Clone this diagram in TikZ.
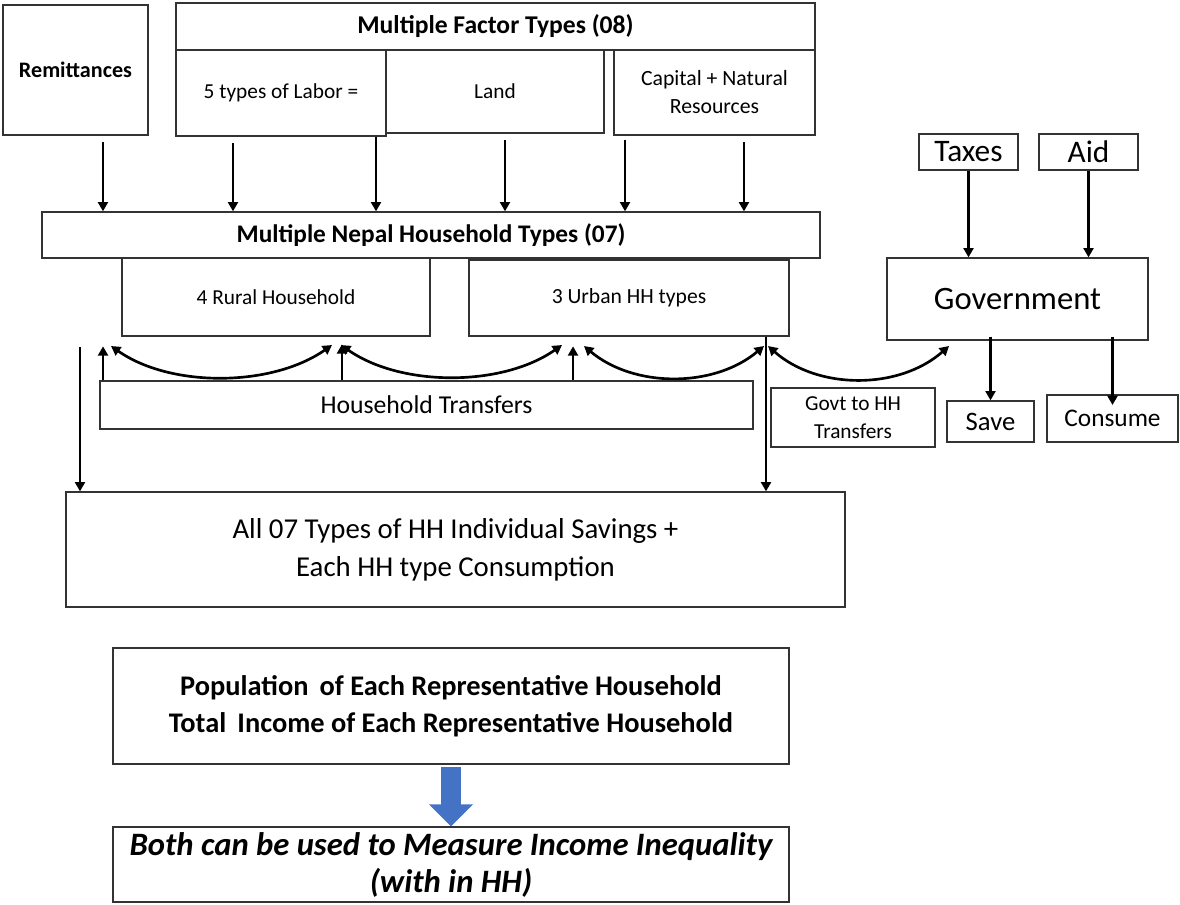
\documentclass[tikz,border=0pt]{standalone}
\usepackage{fontspec}
\setmainfont{Carlito}
\usetikzlibrary{arrows.meta}
\newcommand{\fs}[2]{\fontsize{#1}{#2}\selectfont}
\tikzset{
  box/.style={draw=black!80, line width=1pt, inner sep=0pt, align=center},
  arr/.style={line width=2pt, -{Triangle[length=7pt,width=7.5pt]}},
  twoway/.style={line width=2pt, {Triangle[length=7pt,width=7.5pt]}-{Triangle[length=7pt,width=7.5pt]}},
}

\begin{document}
\begin{tikzpicture}[x=0.75pt, y=-0.75pt]
    \useasboundingbox (0,0) rectangle (1180,904);
    % sources on top
    \node[box, minimum width=108.75pt, minimum height=97.5pt, font=\bfseries\fs{16.6}{20}] (remit) at (75.5,70) {Remittances};
    \node[box, minimum width=479.25pt, minimum height=35.25pt, font=\bfseries\fs{19.2}{22}] (factor) at (495.5,26.5) {Multiple Factor Types (08)};
    \node[box, minimum width=157.5pt, minimum height=64.5pt, font=\fs{16}{21}] (labor) at (281,93) {5 types of Labor =};
    \node[box, minimum width=163.5pt, minimum height=62.25pt, font=\fs{16}{21}] (land) at (495,91.5) {Land};
    \node[box, minimum width=150.75pt, minimum height=63.75pt, font=\fs{16.3}{21}] (cap) at (714.5,92.5) {Capital + Natural\\Resources};
    % households
    \node[box, minimum width=583.5pt, minimum height=34.5pt, font=\bfseries\fs{19}{22}] (nepal) at (431,235) {Multiple Nepal Household Types (07)};
    \node[box, minimum width=231pt, minimum height=58.5pt, font=\fs{16}{20}] (rural) at (276,297) {4 Rural Household};
    \node[box, minimum width=240pt, minimum height=57pt, font=\fs{16.2}{20}] (urban) at (629,298) {3 Urban HH types};
    \node[box, minimum width=489.75pt, minimum height=36pt, font=\fs{19.3}{22}] (htrans) at (426.5,405) {Household Transfers};
    % government side
    \node[box, minimum width=74.25pt, minimum height=27pt, font=\fs{23.5}{26}] (taxes) at (968.5,152) {Taxes};
    \node[box, minimum width=74.25pt, minimum height=27pt, font=\fs{23.5}{26}] (aid) at (1088.5,152) {Aid};
    \node[box, minimum width=195.75pt, minimum height=61.5pt, font=\fs{24.5}{28}] (gov) at (1017.5,299) {Government};
    \node[box, minimum width=65.25pt, minimum height=30.75pt, font=\fs{20}{24}] (save) at (990.5,421.5) {Save};
    \node[box, minimum width=98.25pt, minimum height=35.25pt, font=\fs{19}{23}] (cons) at (1112.5,418.5) {Consume};
    \node[box, minimum width=123pt, minimum height=44.25pt, font=\fs{16}{21}] (gtrans) at (853,417.5) {Govt to HH\\Transfers};
    % bottom boxes
    \node[box, minimum width=584.25pt, minimum height=86.25pt, font=\fs{21.6}{28.5}] (allsave) at (455.5,549.5) {All 07 Types of HH Individual Savings +\\Each HH type Consumption};
    \node[box, minimum width=507pt, minimum height=87pt, font=\bfseries\fs{21.3}{28}] (pop) at (451,706) {Population\, of Each Representative Household\\Total\, Income of Each Representative Household};
    \node[box, minimum width=507pt, minimum height=56.25pt, font=\bfseries\itshape\fs{24.5}{27.75}] (both) at (451,864.5) {Both can be used to Measure Income Inequality\\(with in HH)};

    % into the household block
    \draw[arr, shorten <=5pt] ([xshift=20.6pt]remit.south) -- ([xshift=20.6pt]remit.south |- nepal.north);
    \draw[arr, shorten <=5pt] ([xshift=-36pt]labor.south) -- ([xshift=-36pt]labor.south |- nepal.north);
    \draw[arr] ([xshift=71.25pt]labor.south) -- ([xshift=71.25pt]labor.south |- nepal.north);
    \draw[arr, shorten <=5pt] ([xshift=7.5pt]land.south) -- ([xshift=7.5pt]land.south |- nepal.north);
    \draw[arr, shorten <=3pt] ([xshift=-67.1pt]cap.south) -- ([xshift=-67.1pt]cap.south |- nepal.north);
    \draw[arr, shorten <=5pt] ([xshift=22.1pt]cap.south) -- ([xshift=22.1pt]cap.south |- nepal.north);
    % taxes and aid into government
    \draw[arr] (taxes.south) -- (taxes.south |- gov.north);
    \draw[arr] (aid.south) -- (aid.south |- gov.north);
    % government spending
    \draw[arr] ([yshift=3pt]save.north |- gov.south) -- (save.north);
    \draw[arr] ([yshift=3pt]cons.north |- gov.south) -- ([yshift=-8pt]cons.north);

    % transfers between groups
    \coordinate (t1) at (111,346);
    \coordinate (t2) at (332,345);
    \coordinate (t3) at (341,345);
    \coordinate (t4) at (562,345);
    \coordinate (t5) at (584,346);
    \coordinate (t6) at (764,346);
    \coordinate (t7) at (768,346);
    \coordinate (t8) at (949,346);
    \draw[twoway] (t1) .. controls +(60,42) and +(-60,42) .. (t2);
    \draw[twoway] (t3) .. controls +(60,42) and +(-60,42) .. (t4);
    \draw[twoway] (t5) .. controls +(50,42) and +(-50,42) .. (t6);
    \draw[twoway] (t7) .. controls +(50,44) and +(-50,44) .. (t8);
    \draw[arr] ([xshift=-242.6pt]htrans.north) -- ++(0,-34);
    \draw[arr] ([xshift=-63.4pt]htrans.north) -- ++(0,-36);
    \draw[arr] ([xshift=109.9pt]htrans.north) -- ++(0,-34);

    % down to savings and consumption
    \coordinate (lft) at (80,347);
    \draw[arr] (lft) -- (lft |- allsave.north);
    \draw[arr] ([xshift=102.75pt]urban.south) -- ([xshift=102.75pt]urban.south |- allsave.north);

    % block arrow
    \draw[line width=15pt, draw={rgb,255:red,68;green,114;blue,196}, -{Triangle[length=16.5pt,width=32pt]}] ([yshift=-2pt]pop.south) -- (both.north);
\end{tikzpicture}
\end{document}
